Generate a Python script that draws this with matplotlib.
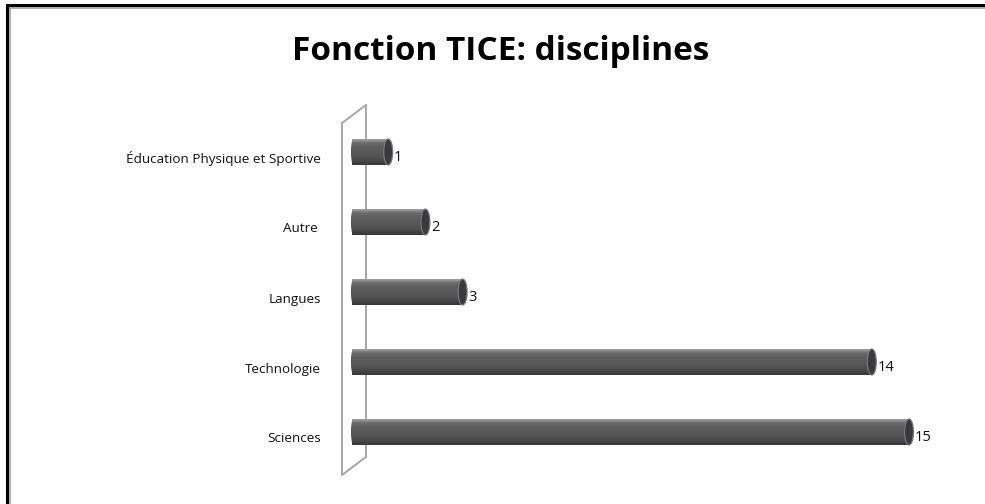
import numpy as np
import matplotlib
matplotlib.use("Agg")
import matplotlib.pyplot as plt
import matplotlib.patches as patches
from matplotlib.lines import Line2D

# Data
categories = ["Sciences", "Technologie", "Langues", "Autre ", "Éducation Physique et Sportive"]
values = [15, 14, 3, 2, 1]
title = "Fonction TICE: disciplines"

W, H = 985, 504
fig = plt.figure(figsize=(W / 100, H / 100), dpi=100)
fig.patch.set_facecolor("white")

# axes placed in pixel terms
ax_left, ax_right, ax_top, ax_bottom = 320, 960, 95, 485
ax = fig.add_axes([ax_left / W, 1 - ax_bottom / H, (ax_right - ax_left) / W, (ax_bottom - ax_top) / H])
px_per_unit = 37.2
x0_px = 351
ax.set_xlim((ax_left - x0_px) / px_per_unit, (ax_right - x0_px) / px_per_unit)
row_px = 70
ax.set_ylim((432 - ax_bottom) / row_px, 4 + (152 - ax_top) / row_px)
ax.axis("off")

# back wall (3D look)
wall_col = "#a6a6a6"
xf, xb = -0.24, 0.40
ytf, ytb = 4.414, 4.671
ybf, ybb = -0.614, -0.357
for xs, ys in [([xf, xf], [ybf, ytf]), ([xb, xb], [ybb, ytb]),
               ([xf, xb], [ytf, ytb]), ([xf, xb], [ybf, ybb])]:
    ax.plot(xs, ys, color=wall_col, lw=1.4, zorder=1, solid_capstyle="round")

# cylinder bars: vertical grey gradient, top to bottom
shade = np.array([0.62, 0.45, 0.40, 0.38, 0.37, 0.36, 0.35, 0.34, 0.33, 0.31, 0.29, 0.26, 0.22])
grad = np.dstack([shade, shade, shade])[0][:, None, :].repeat(2, axis=1)
bh = 0.37
cap_w = 0.24
for i, v in enumerate(values):
    y0, y1 = i - bh / 2, i + bh / 2
    ax.imshow(grad, extent=(0.04, v, y0, y1), aspect="auto", origin="upper",
              zorder=3, interpolation="bicubic")
    # rounded left end
    ax.add_patch(patches.Ellipse((0.06, i), 0.12, bh * 0.97, facecolor="#4e4e50", edgecolor="none", zorder=2.9))
    # right cap
    ax.add_patch(patches.Ellipse((v, i), cap_w, bh, facecolor="#3a3a3c",
                                 edgecolor="#77777a", lw=0.9, zorder=4))
    ax.text(v + cap_w / 2 + 0.04, i - 0.08, str(v), ha="left", va="center",
            fontsize=10.5, family="Open Sans", color="#111111", zorder=5)

# category labels
for i, c in enumerate(categories):
    fig.text(321 / W, 1 - (152 + (4 - i) * row_px + 7) / H, c, ha="right", va="center",
             fontsize=9.7, family="Open Sans", color="#111111")

fig.text(501 / W, 1 - 52 / H, title, ha="center", va="center", fontsize=24,
         fontweight="bold", family="Open Sans", color="black")

# frame (top and left only)
fig.add_artist(Line2D([7 / W, 7 / W], [0, 1 - 5 / H], color="black", lw=2.2, transform=fig.transFigure))
fig.add_artist(Line2D([7 / W, 1], [1 - 5 / H, 1 - 5 / H], color="black", lw=2.2, transform=fig.transFigure))
fig.add_artist(Line2D([10 / W, 10 / W], [0, 1 - 8 / H], color="#a0a0a0", lw=1.2, transform=fig.transFigure))
fig.add_artist(Line2D([10 / W, 1], [1 - 8 / H, 1 - 8 / H], color="#a0a0a0", lw=1.2, transform=fig.transFigure))

fig.savefig("out.png", dpi=100)
